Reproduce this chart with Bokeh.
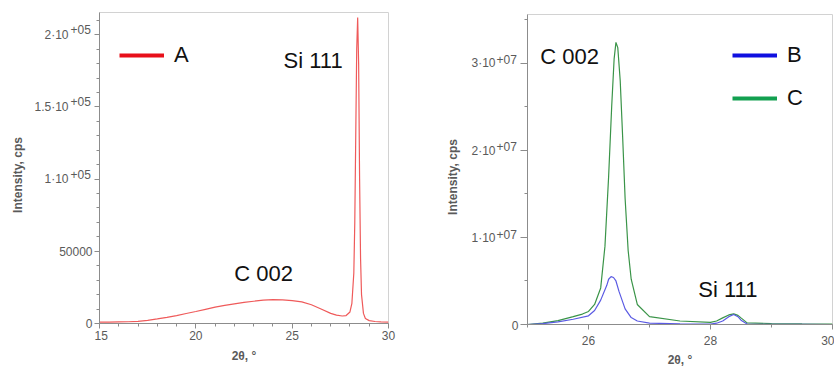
from bokeh.plotting import figure
from bokeh.layouts import row
from bokeh.models import FixedTicker, Label, Legend, LegendItem
from bokeh.core.properties import value
from bokeh.embed import file_html
from bokeh.resources import INLINE

# ---------------- data ----------------
# Sample A (left panel)
two_theta_a = [15.0, 15.5, 16.0, 16.5, 17.0, 17.5, 18.0, 18.5, 19.0, 19.5, 20.0, 20.5,
               21.0, 21.5, 22.0, 22.5, 23.0, 23.5, 24.0, 24.5, 25.0, 25.5, 26.0, 26.5,
               27.0, 27.3, 27.6, 27.8, 28.0, 28.1, 28.2, 28.25, 28.3, 28.35, 28.4,
               28.45, 28.5, 28.55, 28.6, 28.7, 28.8, 29.0, 29.3, 29.6, 30.0]
intensity_a = [900, 1000, 1100, 1200, 1500, 2200, 3200, 4300, 5500, 6900, 8300, 9800,
               11300, 12500, 13600, 14600, 15400, 16200, 16500, 16300, 15800, 15000, 13000, 10000,
               7000, 5800, 5200, 5500, 8000, 14000, 35000, 70000, 130000, 190000, 212000,
               180000, 100000, 45000, 20000, 7000, 3500, 2000, 1400, 1100, 1000]

# Sample B (right panel, blue)
two_theta_b = [25.0, 25.25, 25.5, 25.75, 26.0, 26.1, 26.2, 26.3, 26.33, 26.37, 26.41,
               26.45, 26.5, 26.6, 26.7, 26.8, 27.0, 27.5, 28.0, 28.1, 28.2, 28.3,
               28.38, 28.45, 28.5, 28.6, 28.8, 29.5, 30.0]
intensity_b = [0, 100000, 300000, 600000, 1000000, 1600000, 2800000, 4500000, 5200000,
               5500000, 5400000, 5000000, 3800000, 1800000, 800000, 400000, 150000, 80000,
               50000, 150000, 400000, 900000, 1150000, 900000, 500000, 60000, 20000,
               10000, 0]

# Sample C (right panel, green)
two_theta_c = [25.0, 25.25, 25.5, 25.75, 25.9, 26.0, 26.1, 26.2, 26.27, 26.33, 26.38,
               26.42, 26.45, 26.48, 26.52, 26.56, 26.6, 26.65, 26.7, 26.8, 27.0, 27.5,
               28.0, 28.1, 28.2, 28.3, 28.38, 28.45, 28.5, 28.6, 29.0, 29.5, 30.0]
intensity_c = [0, 150000, 450000, 900000, 1200000, 1500000, 2300000, 4200000, 9000000,
               17000000, 25000000, 30500000, 32400000, 31800000, 28000000, 21500000,
               14500000, 8500000, 5200000, 2300000, 900000, 400000, 250000, 400000,
               760000, 1100000, 1220000, 1050000, 760000, 190000, 110000, 70000, 50000]

# tick values and labels (mantissa part + superscript exponent part)
y_ticks_a = [0, 50000, 100000, 150000, 200000]
y_base_a = ["0", "50000", "1·10", "1.5·10", "2·10"]
y_exp_a = ["", "", "+05", "+05", "+05"]
y_minor_a = [10000 * k for k in range(1, 22)]
x_ticks_a = [15, 20, 25, 30]
x_minor_a = list(range(15, 31))

y_ticks_bc = [0, 10000000, 20000000, 30000000]
y_base_bc = ["0", "1·10", "2·10", "3·10"]
y_exp_bc = ["", "+07", "+07", "+07"]
y_minor_bc = [5000000, 15000000, 25000000, 35000000]
x_ticks_bc = [26, 28, 30]
x_minor_bc = [25, 26, 27, 28, 29, 30]

FONT = "Liberation Sans"
AXIS_GRAY = "#8c8c8c"
TEXT_GRAY = "#5a5a5a"
NAN = float("nan")
FRAME_H = 311
PAD_PX = 14


def style(p, xt, xm, yt, ym, xstand, xlabstand, ytick):
    p.xgrid.visible = False
    p.ygrid.visible = False
    p.outline_line_color = "#d2d2d2"
    p.xaxis.ticker = FixedTicker(ticks=xt, minor_ticks=xm)
    p.yaxis.ticker = FixedTicker(ticks=yt, minor_ticks=ym)
    p.yaxis.major_label_overrides = {t: "" for t in yt}
    for ax in (p.xaxis[0], p.yaxis[0]):
        ax.axis_line_color = AXIS_GRAY
        ax.major_tick_line_color = AXIS_GRAY
        ax.minor_tick_line_color = AXIS_GRAY
        ax.major_tick_out = 5
        ax.major_tick_in = 0
        ax.minor_tick_out = 3
        ax.minor_tick_in = 0
        ax.major_label_text_font = FONT
        ax.major_label_text_font_size = "12px"
        ax.major_label_text_color = TEXT_GRAY
        ax.axis_label_text_font = FONT
        ax.axis_label_text_font_size = "12px"
        ax.axis_label_text_font_style = "bold"
        ax.axis_label_text_color = TEXT_GRAY
    p.yaxis.major_tick_out = ytick
    p.yaxis.major_label_standoff = 0
    p.xaxis.major_label_standoff = xstand
    p.xaxis.axis_label_standoff = xlabstand


def label_column(width, height, top, bottom, left, y_end, ticks, bases, exps,
                 base_off, exp_off, plain_off, exp_lift):
    """Narrow strip left of a panel holding the y tick labels and the y title."""
    pad = y_end * PAD_PX / FRAME_H          # same scale as the panel, frame extended downwards
    f = figure(width=width, height=height, x_range=(0, 1), y_range=(-pad, y_end),
               output_backend="svg", toolbar_location=None, frame_align=False,
               min_border_left=left, min_border_right=0, min_border_top=top,
               min_border_bottom=bottom - PAD_PX, y_axis_label="Intensity, cps")
    f.xaxis.visible = False
    f.xgrid.visible = False
    f.ygrid.visible = False
    f.outline_line_color = None
    ax = f.yaxis[0]
    ax.ticker = FixedTicker(ticks=[])
    ax.axis_line_color = None
    ax.major_tick_out = 0
    ax.major_tick_in = 0
    ax.minor_tick_out = 0
    ax.minor_tick_in = 0
    ax.major_label_standoff = 0
    ax.axis_label_standoff = 6
    ax.axis_label_text_font = FONT
    ax.axis_label_text_font_size = "12px"
    ax.axis_label_text_font_style = "bold"
    ax.axis_label_text_color = TEXT_GRAY
    plain_y = [t for t, e in zip(ticks, exps) if not e]
    plain_t = [b for b, e in zip(bases, exps) if not e]
    sci_y = [t for t, e in zip(ticks, exps) if e]
    sci_b = [b for b, e in zip(bases, exps) if e]
    sci_e = [e for e in exps if e]
    common = dict(text_font=value(FONT), text_color=TEXT_GRAY, text_baseline="middle")
    f.text(x=[1] * len(plain_y), y=plain_y, text=plain_t, x_offset=plain_off,
           text_align="right", text_font_size="12px", **common)
    f.text(x=[1] * len(sci_y), y=sci_y, text=sci_b, x_offset=base_off,
           text_align="right", text_font_size="12px", **common)
    f.text(x=[1] * len(sci_y), y=sci_y, text=sci_e, x_offset=exp_off, y_offset=-exp_lift,
           text_align="left", text_font_size="12px", **common)
    return f


def make_legend(p, entries, loc, spacing):
    items = []
    for lab, col in entries:
        r = p.line(x=[NAN], y=[NAN], line_color=col, line_width=4)
        items.append(LegendItem(label=lab, renderers=[r]))
    lg = Legend(items=items, location=loc, border_line_color=None,
                background_fill_alpha=0, padding=0, margin=0, spacing=spacing,
                glyph_width=45, glyph_height=26, label_height=26, label_standoff=10,
                label_text_font=FONT, label_text_font_size="22px",
                label_text_color="#111111")
    p.add_layout(lg)


H = 369
Y_END_A = 215400
Y_END_BC = 35600000

# ---------------- left panel ----------------
lab1 = label_column(94, H, 12, 46, 30, Y_END_A, y_ticks_a, y_base_a, y_exp_a,
                    -26, -24, -2, 5)
p1 = figure(width=326, height=H, x_range=(15, 30), y_range=(0, Y_END_A),
            output_backend="svg", toolbar_location=None, frame_align=False,
            min_border_left=5, min_border_right=32, min_border_top=12, min_border_bottom=46,
            x_axis_label="2θ, °")
style(p1, x_ticks_a, x_minor_a, y_ticks_a, y_minor_a, 2, 6, 5)
p1.line(two_theta_a, intensity_a, line_color="#ef5a5a", line_width=1.2)
p1.add_layout(Label(x=24.55, y=173800, text="Si 111", text_font=FONT,
                    text_font_size="22px", text_color="#111111"))
p1.add_layout(Label(x=22.0, y=26300, text="C 002", text_font=FONT,
                    text_font_size="22px", text_color="#111111"))
make_legend(p1, [("A", "#e8101a")], (20, 255), 0)

# ---------------- right panel ----------------
lab2 = label_column(100, H, 14, 44, 45, Y_END_BC, y_ticks_bc, y_base_bc, y_exp_bc,
                    -25, -24, -2, 4)
p2 = figure(width=314, height=H, x_range=(25, 30), y_range=(0, Y_END_BC),
            output_backend="svg", toolbar_location=None, frame_align=False,
            min_border_left=7, min_border_right=2, min_border_top=14, min_border_bottom=44,
            x_axis_label="2θ, °")
style(p2, x_ticks_bc, x_minor_bc, y_ticks_bc, y_minor_bc, 6, 5, 7)
p2.line(two_theta_c, intensity_c, line_color="#3a9448", line_width=1.2)
p2.line(two_theta_b, intensity_b, line_color="#5b5be3", line_width=1.2)
p2.add_layout(Label(x=25.21, y=29300000, text="C 002", text_font=FONT,
                    text_font_size="22px", text_color="#111111"))
p2.add_layout(Label(x=27.80, y=2630000, text="Si 111", text_font=FONT,
                    text_font_size="22px", text_color="#111111"))
make_legend(p2, [("B", "#1010e0"), ("C", "#12a050")], (205, 213), 17)

layout = row(lab1, p1, lab2, p2)
open("out.html", "w").write(file_html(layout, INLINE))
